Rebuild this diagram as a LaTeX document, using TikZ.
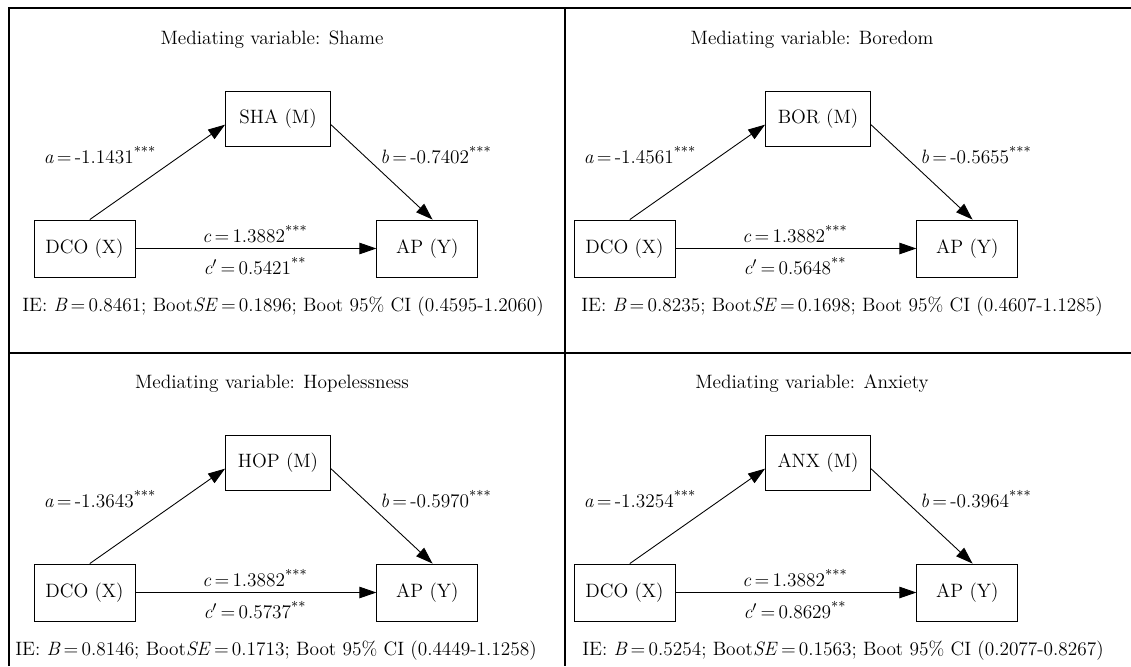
\documentclass[tikz,border=0pt]{standalone}
\usepackage{amsmath, amssymb}
\usetikzlibrary{positioning}
\usetikzlibrary{arrows.meta}

\begin{document}
\begin{tikzpicture}[x=0.02cm,y=-0.02cm,>={Triangle[length=3.4mm,width=2.3mm]},
                font=\fontsize{11}{13}\selectfont,
                frame/.style={line width=0.9pt},
                var node/.style={draw,line width=0.5pt,minimum width=2.02cm,minimum height=1.14cm,inner sep=0pt},
                med node/.style={var node,minimum width=2.1cm,minimum height=1.1cm},
                path/.style={->,line width=0.5pt}]

  \useasboundingbox (0,0) rectangle (1131,666);

  % panel frame
  \draw[frame] (9,666) -- (9,8) -- (1131,8);
  \draw[frame] (565,8) -- (565,666);
  \draw[frame] (9,353) -- (1131,353);

  \foreach \n/\dx/\dy/\ttl/\med/\a/\b/\cp/\B/\se/\ci/\iex in {
      1/0/0/Shame/SHA/-1.1431/-0.7402/0.5421/0.8461/0.1896/0.4595-1.2060/283,
      2/540/0/Boredom/BOR/-1.4561/-0.5655/0.5648/0.8235/0.1698/0.4607-1.1285/302,
      3/0/344/Hopelessness/HOP/-1.3643/-0.5970/0.5737/0.8146/0.1713/0.4449-1.1258/276,
      4/540/344/Anxiety/ANX/-1.3254/-0.3964/0.8629/0.5254/0.1563/0.2077-0.8267/303}{
  \begin{scope}[shift={(\dx,\dy)}]
    \node (t\n) at (272,40) {Mediating variable: \ttl};
    \node[var node] (x\n) at (84.5,248.5) {DCO (X)};
    \node[var node] (y\n) [right=4.82cm of x\n] {AP (Y)};
    \node[med node] (m\n) at (278,118.5) {\med{} (M)};

    \node (a\n) at (100,155) {\textit{a}\,=\,\a\textsuperscript{***}};
    \node (b\n) at (436,155) {\textit{b}\,=\,\b\textsuperscript{***}};
    \node (c\n) at (255,234) {\textit{c}\,=\,1.3882\textsuperscript{***}};
    \node (d\n) at (255,266) {\textit{c}$'$\,=\,\cp\textsuperscript{**}};
    \node (ie\n) at (\iex,307) {IE: \textit{B}\,=\,\B; Boot\textit{SE}\,=\,\se; Boot 95\% CI (\ci)};

    \draw[path] ([xshift=3pt]x\n.north) -- ([yshift=-3.5pt]m\n.west);
    \draw[path] ([yshift=-3.5pt]m\n.east) -- ([xshift=3pt]y\n.north);
    \draw[path] (x\n) -- (y\n);
  \end{scope}
  }

\end{tikzpicture}
\end{document}
